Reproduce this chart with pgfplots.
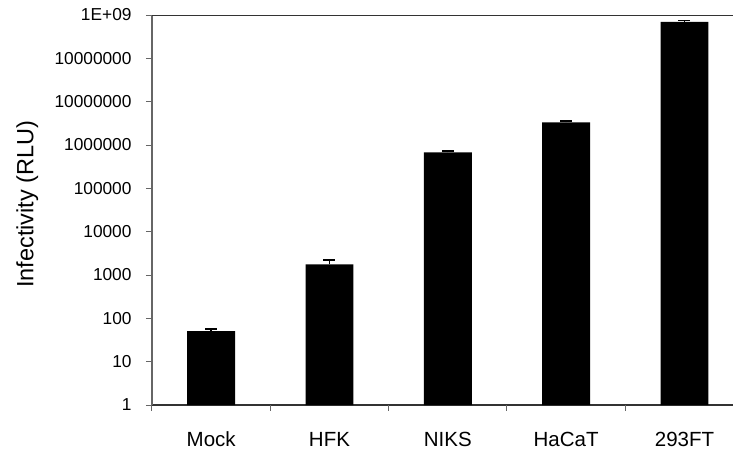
\documentclass[border=0pt]{standalone}
\usepackage{fontspec}
\setmainfont{Liberation Sans}
\usepackage{pgfplots}
\pgfplotsset{compat=1.18}
\begin{document}
\begin{tikzpicture}
\begin{axis}[
  scale only axis, width=581pt, height=390pt,
  ymode=log, log basis y=10, ymin=1, ymax=1e9,
  xmin=-0.5, xmax=4.41,
  axis lines=left, axis line style={-},
  x axis line style={black!80, line width=1.2pt},
  y axis line style={black!60, line width=1.2pt},
  tick align=outside,
  major tick length=6pt,
  ytick={1,10,100,1000,10000,100000,1000000,10000000,100000000,1000000000},
  yticklabels={1,10,100,1000,10000,100000,1000000,10000000,10000000,1E+09},
  yminorticks=false,
  ytick style={draw=black!60, line width=1pt},
  xtick={0,1,2,3,4},
  xticklabels={Mock,HFK,NIKS,HaCaT,293FT},
  xtick style={draw=none},
  extra x ticks={-0.5,0.5,1.5,2.5,3.5},
  extra x tick labels={},
  extra x tick style={xtick style={draw=black!60, line width=1pt}},
  /pgf/number format/assume math mode=true,
  yticklabel style={font=\fontsize{17.3}{20}\selectfont, anchor=east, inner sep=0pt, xshift=-14.3pt},
  xticklabel style={font=\fontsize{20.5}{24}\selectfont, anchor=base, inner sep=0pt, yshift=-35.7pt},
  ylabel={Infectivity (RLU)},
  ylabel style={font=\fontsize{23.5}{26}\selectfont, at={(axis description cs:-0.2043,0.515)}, anchor=base, inner sep=0pt},
]
\addplot[ybar, bar width=0.405, fill=black, draw=none,
  error bars/.cd, y dir=plus, y explicit,
  error bar style={draw=black, solid, line width=1.5pt},
  error mark options={draw=black, solid, line width=1.5pt, mark size=6pt, rotate=90}]
  table[x=x, y=y, y error=ey] {
x y ey
0 51 5
1 1766 450
2 672000 55000
3 3340000 260000
4 690000000 50000000
};
\draw[black!80, line width=1.2pt] (rel axis cs:0,1) -- (rel axis cs:1,1);
\end{axis}
\pgfresetboundingbox
\path[use as bounding box] ([shift={(-152pt,-48pt)}]current axis.south west) rectangle ++(733pt,453pt);
\end{tikzpicture}
\end{document}
